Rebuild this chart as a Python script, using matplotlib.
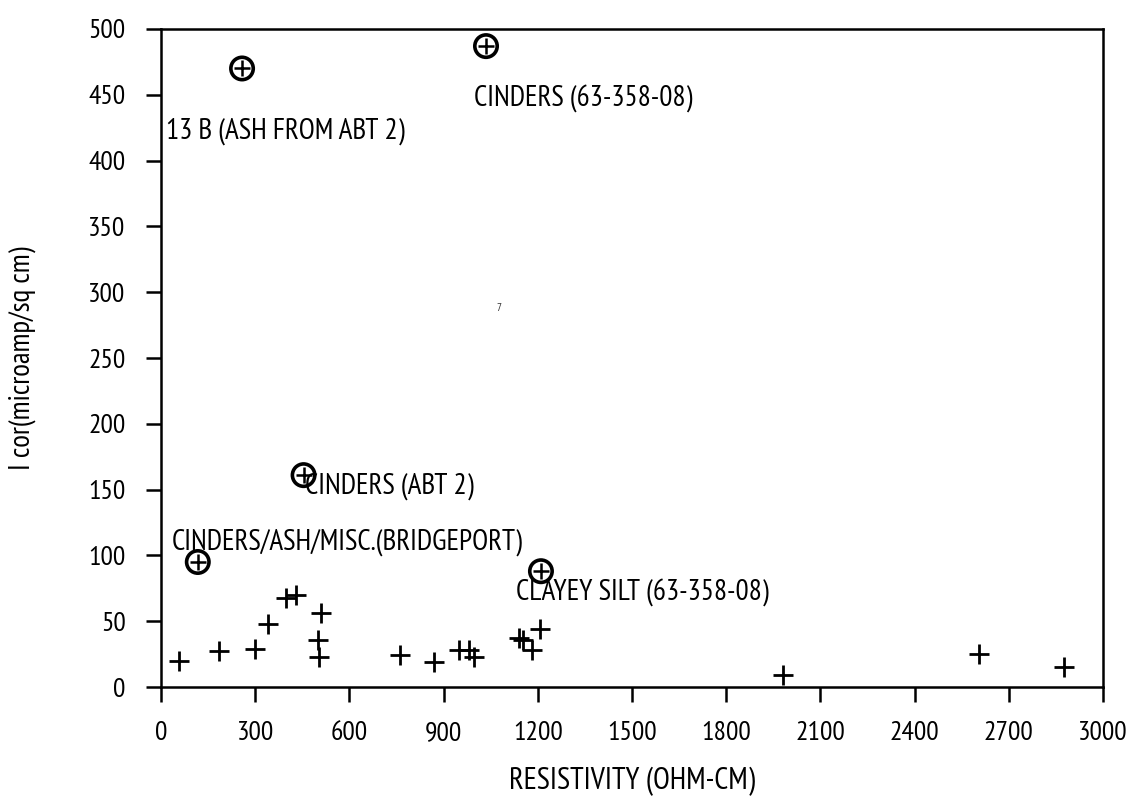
"""Corrosion current vs. soil resistivity scatter (scanned plotter chart)."""
import matplotlib
matplotlib.use("Agg")
import matplotlib.pyplot as plt

plt.rcParams["font.family"] = ["PT Sans Narrow", "DejaVu Sans"]

# plain samples (+)
resistivity = [58, 186, 299, 340, 398, 430, 510, 499, 504, 761, 870, 950,
               982, 998, 1139, 1152, 1180, 1207, 1981, 2604, 2876]
i_cor = [20, 27, 29, 48, 68, 70, 56, 36, 23, 24, 19, 28,
         28, 23, 37, 36, 28, 44, 9, 25, 15]

# labelled samples (circled +)
named_resistivity = [258, 1035, 454, 117, 1210]
named_i_cor = [470, 487, 161, 95, 88]
names = [
    "13 B (ASH FROM ABT 2)",
    "CINDERS (63-358-08)",
    "CINDERS (ABT 2)",
    "CINDERS/ASH/MISC.(BRIDGEPORT)",
    "CLAYEY SILT (63-358-08)",
]
label_offsets = [(-55, -45), (-9, -38), (1, -8), (-19, 14), (-18, -16)]

x_ticks = list(range(0, 3001, 300))
y_ticks = list(range(0, 501, 50))

fig = plt.figure(figsize=(11.31, 8.01), dpi=100)
ax = fig.add_axes([0.1424, 0.1423, 0.8328, 0.8215])

ax.scatter(resistivity, i_cor, marker="+", s=200, color="black", linewidths=2)
ax.scatter(named_resistivity, named_i_cor, marker="o", s=260, facecolors="none",
           edgecolors="black", linewidths=2.6)
ax.scatter(named_resistivity, named_i_cor, marker="+", s=120, color="black",
           linewidths=1.8)
for x, y, name, off in zip(named_resistivity, named_i_cor, names, label_offsets):
    ax.annotate(name, (x, y), xytext=off, textcoords="offset points",
                ha="left", va="center", fontsize=21)

# stray mark on the scan
ax.text(1076, 288, "7", fontsize=8, style="italic", ha="center", va="center",
        color="#333333")

ax.set_xlim(0, 3000)
ax.set_ylim(0, 500)
ax.set_xticks(x_ticks)
ax.set_yticks(y_ticks)
ax.tick_params(direction="out", length=10.5, width=1.8, labelsize=20)
ax.tick_params(axis="x", pad=14)
ax.tick_params(axis="y", pad=15)
for spine in ax.spines.values():
    spine.set_linewidth(1.8)

ax.set_xlabel("RESISTIVITY (OHM-CM)", fontsize=22, labelpad=16)
ax.set_ylabel("I cor(microamp/sq cm)", fontsize=21, labelpad=38)

fig.savefig("out.png", dpi=100)
plt.close(fig)
